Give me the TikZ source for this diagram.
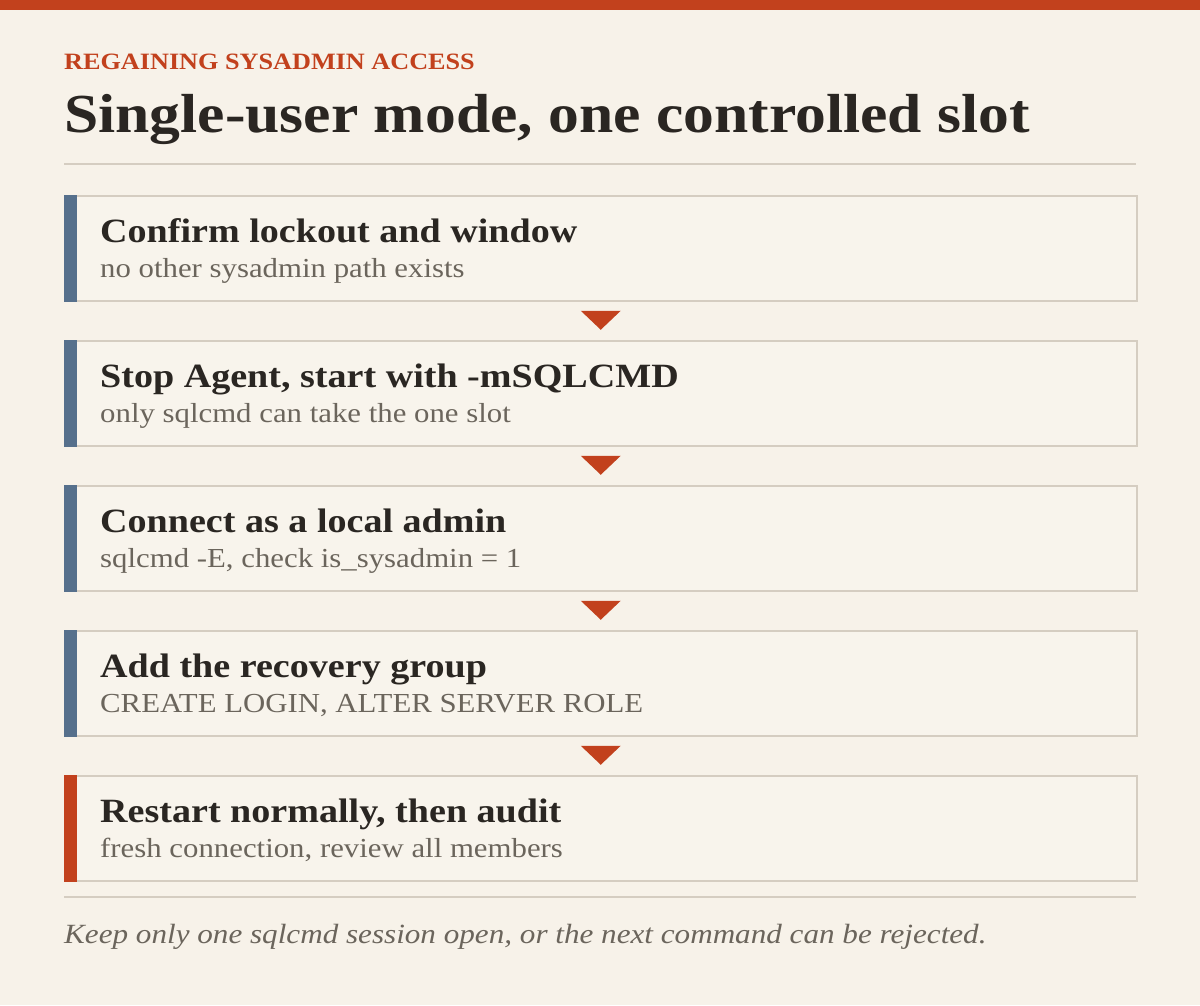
\documentclass[tikz,border=0pt]{standalone}
\usepackage{fontspec}
\setmainfont[FakeStretch=1.12]{Liberation Serif}
\usetikzlibrary{calc}

\definecolor{paper}{HTML}{F7F2E9}
\definecolor{boxfill}{HTML}{F8F4EC}
\definecolor{boxline}{HTML}{D5CDC1}
\definecolor{rust}{HTML}{C2411D}
\definecolor{steel}{HTML}{56708C}
\definecolor{ink}{HTML}{2A2622}
\definecolor{muted}{HTML}{6B655C}

\tikzset{
  stepbox/.style={draw=boxline, line width=1.5pt, fill=boxfill, minimum width=1072pt, minimum height=105pt, anchor=north west, inner sep=0pt},
  steptitle/.style={anchor=base west, inner sep=0pt, text=ink, font=\fontsize{34}{40}\selectfont\bfseries},
  stepnote/.style={anchor=base west, inner sep=0pt, text=muted, font=\fontsize{27.5}{32}\selectfont},
  rule/.style={draw=boxline, line width=1.5pt}
}

\begin{document}
\begin{tikzpicture}[x=1pt,y=1pt,yscale=-1,xscale=1]
%Shape: Background
\fill[paper] (0,0) rectangle (1200,1005);
%Shape: Top Bar
\fill[rust] (0,0) rectangle (1200,10);

% Text Node
\node[anchor=base west, inner sep=0pt, text=rust, font=\fontsize{23.4}{28}\selectfont\bfseries] (kicker) at (64,69) {REGAINING SYSADMIN ACCESS};
% Text Node
\node[anchor=base west, inner sep=0pt, text=ink, font=\fontsize{55}{60}\selectfont\bfseries] (headline) at (64,132) {Single-user mode, one controlled slot};
%Straight Lines
\draw[rule] (64,164) -- (1136,164);

%Shape: Rectangle
\node[stepbox] (confirm) at (64,195) {};
\fill[steel] (confirm.north west) rectangle ($(confirm.south west)+(13,0)$);
\node[steptitle] (confirmtitle) at ($(confirm.north west)+(36,47)$) {Confirm lockout and window};
\node[stepnote] (confirmnote) at ($(confirm.north west)+(36,82)$) {no other sysadmin path exists};

%Shape: Rectangle
\node[stepbox] (stopagent) at (64,340) {};
\fill[steel] (stopagent.north west) rectangle ($(stopagent.south west)+(13,0)$);
\node[steptitle] (stopagenttitle) at ($(stopagent.north west)+(36,47)$) {Stop Agent, start with -mSQLCMD};
\node[stepnote] (stopagentnote) at ($(stopagent.north west)+(36,82)$) {only sqlcmd can take the one slot};

%Shape: Rectangle
\node[stepbox] (connect) at (64,485) {};
\fill[steel] (connect.north west) rectangle ($(connect.south west)+(13,0)$);
\node[steptitle] (connecttitle) at ($(connect.north west)+(36,47)$) {Connect as a local admin};
\node[stepnote] (connectnote) at ($(connect.north west)+(36,82)$) {sqlcmd -E, check is\_sysadmin = 1};

%Shape: Rectangle
\node[stepbox] (addgroup) at (64,630) {};
\fill[steel] (addgroup.north west) rectangle ($(addgroup.south west)+(13,0)$);
\node[steptitle] (addgrouptitle) at ($(addgroup.north west)+(36,47)$) {Add the recovery group};
\node[stepnote] (addgroupnote) at ($(addgroup.north west)+(36,82)$) {CREATE LOGIN, ALTER SERVER ROLE};

%Shape: Rectangle
\node[stepbox] (restart) at (64,775) {};
\fill[rust] (restart.north west) rectangle ($(restart.south west)+(13,0)$);
\node[steptitle] (restarttitle) at ($(restart.north west)+(36,47)$) {Restart normally, then audit};
\node[stepnote] (restartnote) at ($(restart.north west)+(36,82)$) {fresh connection, review all members};

%Shape: Triangles
\coordinate (gapa) at ($(confirm.south)!0.5!(stopagent.north)$);
\fill[rust] ($(gapa)+(-20,-10)$) -- ($(gapa)+(20,-10)$) -- ($(gapa)+(0,9)$) -- cycle;
\coordinate (gapb) at ($(stopagent.south)!0.5!(connect.north)$);
\fill[rust] ($(gapb)+(-20,-10)$) -- ($(gapb)+(20,-10)$) -- ($(gapb)+(0,9)$) -- cycle;
\coordinate (gapc) at ($(connect.south)!0.5!(addgroup.north)$);
\fill[rust] ($(gapc)+(-20,-10)$) -- ($(gapc)+(20,-10)$) -- ($(gapc)+(0,9)$) -- cycle;
\coordinate (gapd) at ($(addgroup.south)!0.5!(restart.north)$);
\fill[rust] ($(gapd)+(-20,-10)$) -- ($(gapd)+(20,-10)$) -- ($(gapd)+(0,9)$) -- cycle;

%Straight Lines
\draw[rule] (64,897) -- (1136,897);
% Text Node
\node[anchor=base west, inner sep=0pt, text=muted, font=\fontsize{27.8}{32}\selectfont\itshape] (footnote) at (64,943) {Keep only one sqlcmd session open, or the next command can be rejected.};

\end{tikzpicture}
\end{document}
